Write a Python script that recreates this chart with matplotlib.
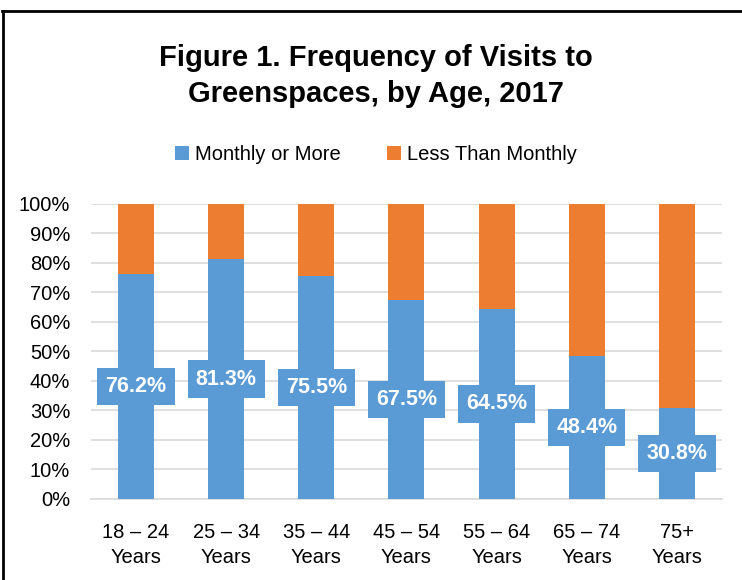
import matplotlib.pyplot as plt
from matplotlib.lines import Line2D
import numpy as np

plt.rcParams['font.family'] = ['Liberation Sans', 'DejaVu Sans']

# ----- data -----
age_groups = ['18 – 24\nYears', '25 – 34\nYears', '35 – 44\nYears', '45 – 54\nYears',
              '55 – 64\nYears', '65 – 74\nYears', '75+\nYears']
monthly_or_more = [76.2, 81.3, 75.5, 67.5, 64.5, 48.4, 30.8]
less_than_monthly = [100 - v for v in monthly_or_more]

blue = '#5B9BD5'
orange = '#ED7D31'

fig = plt.figure(figsize=(7.42, 5.8), dpi=100)
ax = fig.add_axes([0.1226, 0.1397, 0.8504, 0.5086])

x = np.arange(len(age_groups))
ax.bar(x, monthly_or_more, width=0.4, color=blue, label='Monthly or More', zorder=3)
ax.bar(x, less_than_monthly, width=0.4, bottom=monthly_or_more, color=orange,
       label='Less Than Monthly', zorder=3)

# 값 라벨 (파란 박스 안 흰 글씨)
for i, v in enumerate(monthly_or_more):
    ax.text(i, v / 2, f'{v:.1f}%', ha='center', va='center', color='white',
            fontsize=15.5, fontweight='bold', zorder=4,
            bbox=dict(boxstyle='square,pad=0.38', fc=blue, ec='none'))

ax.set_xlim(-0.5, len(age_groups) - 0.5)
ax.set_ylim(0, 100)
ax.set_yticks(range(0, 101, 10))
ax.set_yticklabels([f'{t}%' for t in range(0, 101, 10)], fontsize=14.5)
ax.set_xticks(x)
ax.set_xticklabels(age_groups, fontsize=14.5, linespacing=1.45)
ax.tick_params(axis='both', length=0)
ax.tick_params(axis='y', pad=15)
ax.tick_params(axis='x', pad=17)
ax.yaxis.grid(True, color='#D9D9D9', linewidth=1.2, zorder=0)
for s in ['top', 'right', 'left']:
    ax.spines[s].set_visible(False)
ax.spines['bottom'].set_color('#D9D9D9')
ax.spines['bottom'].set_linewidth(1.2)

fig.text(0.507, 0.869, 'Figure 1. Frequency of Visits to\nGreenspaces, by Age, 2017',
         ha='center', va='center', fontsize=21, fontweight='bold', linespacing=1.4)

fig.legend(loc='center', bbox_to_anchor=(0.507, 0.734), ncol=2, frameon=False,
           fontsize=14.5, handlelength=0.7, handleheight=0.7, handletextpad=0.3,
           columnspacing=2.3)

# 바깥 테두리 (위, 왼쪽)
fig.add_artist(Line2D([2 / 742, 1], [1 - 11 / 580, 1 - 11 / 580], color='black', lw=2))
fig.add_artist(Line2D([3 / 742, 3 / 742], [0, 1 - 11 / 580], color='black', lw=2))

fig.savefig('out.png', dpi=100)
